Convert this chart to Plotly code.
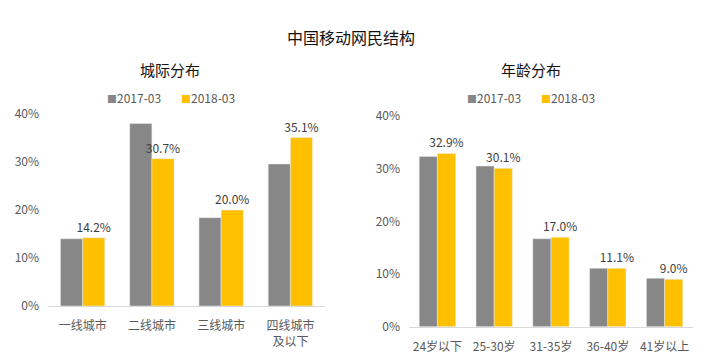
import plotly.graph_objects as go

city_cats = ["一线城市", "二线城市", "三线城市", "四线城市<br>及以下"]
city_2017 = [14.0, 38.0, 18.4, 29.6]
city_2018 = [14.2, 30.7, 20.0, 35.1]

age_cats = ["24岁以下", "25-30岁", "31-35岁", "36-40岁", "41岁以上"]
age_2017 = [32.3, 30.5, 16.7, 11.1, 9.2]
age_2018 = [32.9, 30.1, 17.0, 11.1, 9.0]

series_names = ["2017-03", "2018-03"]
y_ticks = [0, 10, 20, 30, 40]
y_tick_labels = ["0%", "10%", "20%", "30%", "40%"]

GRAY = "#878787"
YELLOW = "#FFC000"
COLORS = [GRAY, YELLOW]
FONT = "Noto Sans CJK SC"
TXT = "#595959"
W, H = 710, 360

fig = go.Figure()

def add_pair(cats, v17, v18, xa, ya):
    fig.add_trace(go.Bar(x=cats, y=v17, name=series_names[0], marker_color=GRAY,
                         xaxis=xa, yaxis=ya, showlegend=False))
    fig.add_trace(go.Bar(x=cats, y=v18, name=series_names[1], marker_color=YELLOW,
                         text=[f"{v:.1f}%" for v in v18], textposition="outside",
                         constraintext="none",
                         textfont=dict(size=12, color="#404040", family=FONT),
                         cliponaxis=False, xaxis=xa, yaxis=ya, showlegend=False))

add_pair(city_cats, city_2017, city_2018, "x", "y")
add_pair(age_cats, age_2017, age_2018, "x2", "y2")

axis_common = dict(showgrid=False, zeroline=False, ticks="",
                   tickfont=dict(size=12, color=TXT, family=FONT))
xcommon = dict(showline=True, linecolor="#d9d9d9", ticklabelstandoff=9, **axis_common)
ycommon = dict(range=[0, 40], tickvals=y_ticks, ticktext=y_tick_labels, showline=False,
               ticklabelstandoff=8, **axis_common)
fig.update_layout(
    width=W, height=H,
    margin=dict(l=0, r=0, t=0, b=0, autoexpand=False),
    paper_bgcolor="white", plot_bgcolor="white",
    font=dict(family=FONT, color=TXT),
    barmode="group", bargap=0.36, bargroupgap=0,
    showlegend=False,
    xaxis=dict(domain=[48 / W, 325 / W], anchor="y", **xcommon),
    yaxis=dict(domain=[1 - 306 / H, 1 - 114 / H], anchor="x", **ycommon),
    xaxis2=dict(domain=[409 / W, 693 / W], anchor="y2", **xcommon),
    yaxis2=dict(domain=[1 - 326.7 / H, 1 - 116 / H], anchor="x2", **ycommon),
)

def ann(text, px, py, size, color, xanchor="center"):
    fig.add_annotation(text=text, x=px / W, y=1 - py / H, xref="paper", yref="paper",
                       xanchor=xanchor, yanchor="middle", showarrow=False,
                       font=dict(size=size, color=color, family=FONT))

ann("中国移动网民结构", 351, 37, 16, "#111111")
ann("城际分布", 170, 69, 15, "#111111")
ann("年龄分布", 531, 69, 15, "#111111")

# legends (square key + series name)
for lx in (105, 465):
    for i, name in enumerate(series_names):
        ann(f'<span style="color:{COLORS[i]};font-size:10px">■</span>{name}',
            lx + i * 74, 98, 12, TXT, xanchor="left")

fig.write_html("out.html", config={"displayModeBar": False},
               post_script="document.body.style.margin='0';document.body.style.overflow='hidden';")
